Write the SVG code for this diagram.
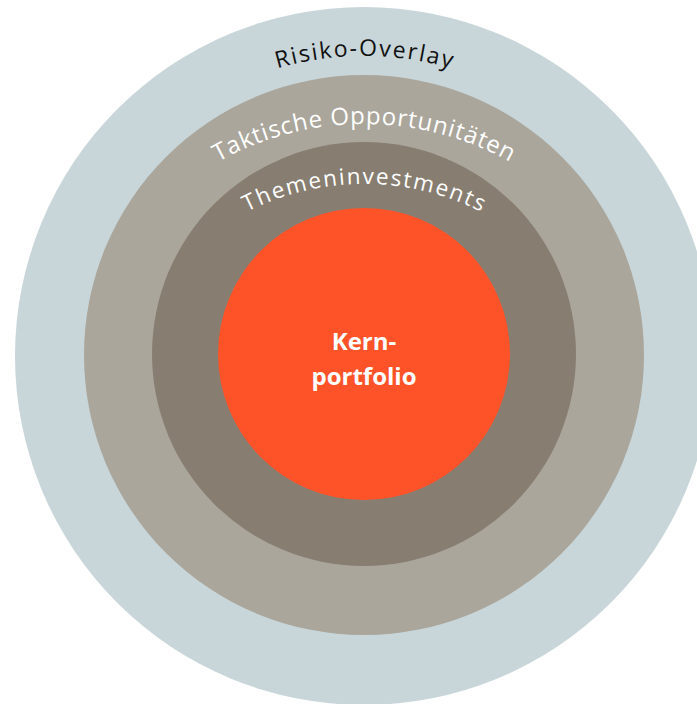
<svg xmlns="http://www.w3.org/2000/svg" width="697" height="704" viewBox="0 0 697 704">
<style>
.lbl{font-family:"Open Sans","Liberation Sans",sans-serif;}
.arc{fill:none;stroke:none;}
</style>
<defs>
<path id="p1" class="arc" d="M 95.5 211 A 310 310 0 0 1 632.5 211"/>
<path id="p2" class="arc" d="M 104.2 274 A 300 300 0 0 1 623.8 274"/>
<path id="p3" class="arc" d="M 138.8 314 A 260 260 0 0 1 589.2 314"/>
</defs>
<rect width="697" height="704" fill="#ffffff"/>
<g id="risiko-overlay">
<circle cx="364" cy="356" r="349" fill="#c8d6da"/>
<text class="lbl" font-size="23" fill="#111111"><textPath href="#p1" startOffset="50%" text-anchor="middle" textLength="176" lengthAdjust="spacing">Risiko-Overlay</textPath></text>
</g>
<g id="taktische-opportunitaeten">
<circle cx="364" cy="355" r="280" fill="#aaa69b"/>
<text class="lbl" font-size="24" fill="#ffffff"><textPath href="#p2" startOffset="50%" text-anchor="middle" textLength="305" lengthAdjust="spacing">Taktische Opportunitäten</textPath></text>
</g>
<g id="themeninvestments">
<circle cx="364" cy="354" r="212" fill="#877e71"/>
<text class="lbl" font-size="22.5" fill="#ffffff"><textPath href="#p3" startOffset="50%" text-anchor="middle" textLength="243" lengthAdjust="spacing">Themeninvestments</textPath></text>
</g>
<g id="kernportfolio">
<circle cx="364" cy="354" r="146" fill="#fe5329"/>
<text class="lbl" font-size="24" font-weight="bold" fill="#ffffff" text-anchor="middle"><tspan x="364" y="350">Kern-</tspan><tspan x="364" y="385">portfolio</tspan></text>
</g>
<g id="connectors"/>
</svg>
